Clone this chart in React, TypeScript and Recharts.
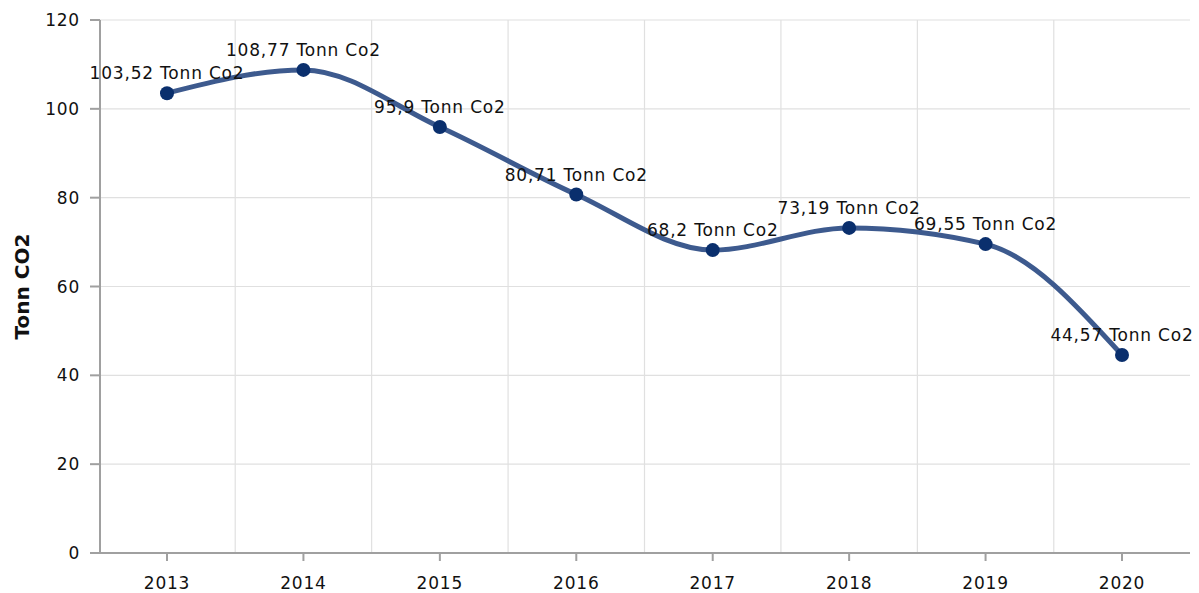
import { LineChart, Line, XAxis, YAxis, CartesianGrid, LabelList, Label } from "recharts";

// Values
const years = ["2013", "2014", "2015", "2016", "2017", "2018", "2019", "2020"];
const emissions = [103.52, 108.77, 95.9, 80.71, 68.2, 73.19, 69.55, 44.57];
const yTicks = [0, 20, 40, 60, 80, 100, 120];

const data = years.map((year, i) => ({ year, value: emissions[i] }));

const PAD_LEFT = 67;
const PAD_RIGHT = 68;
const FONT = "'DejaVu Sans', Verdana, sans-serif";
const textStyle = { fill: "#111", fontSize: 17, letterSpacing: 0.8, fontFamily: FONT };

export default function App() {
  return (
    <div style={{ position: "absolute", left: 0, top: 0, fontFamily: FONT }}>
      <LineChart
        width={1199}
        height={593}
        data={data}
        margin={{ top: 20, right: 9, bottom: 0, left: 0 }}
      >
        {/* vertical lines sit between the categories */}
        <CartesianGrid
          stroke="#e0e0e0"
          strokeWidth={1.2}
          verticalCoordinatesGenerator={({ offset }: any) => {
            const step = (offset.width - PAD_LEFT - PAD_RIGHT) / (years.length - 1);
            return years
              .slice(1)
              .map((_, i) => offset.left + PAD_LEFT + (i + 0.5) * step);
          }}
        />
        <XAxis
          dataKey="year"
          height={40}
          padding={{ left: PAD_LEFT, right: PAD_RIGHT }}
          tickSize={8}
          tickMargin={16}
          axisLine={{ stroke: "#a0a0a0", strokeWidth: 2 }}
          tickLine={{ stroke: "#a0a0a0", strokeWidth: 2 }}
          tick={textStyle}
        />
        <YAxis
          width={100}
          domain={[0, 120]}
          ticks={yTicks}
          tickSize={10}
          tickMargin={10}
          axisLine={{ stroke: "#a0a0a0", strokeWidth: 2 }}
          tickLine={{ stroke: "#a0a0a0", strokeWidth: 2 }}
          tick={textStyle}
        >
          <Label
            content={({ viewBox }: any) => {
              const x = viewBox.x + 22;
              const y = viewBox.y + viewBox.height / 2;
              return (
                <text
                  x={x}
                  y={y}
                  transform={`rotate(-90 ${x} ${y})`}
                  textAnchor="middle"
                  dominantBaseline="central"
                  fontSize={20}
                  fontWeight="bold"
                  fontFamily={FONT}
                  fill="#111"
                >
                  Tonn CO2
                </text>
              );
            }}
          />
        </YAxis>
        <Line
          type="monotone"
          dataKey="value"
          stroke="#3d5a8e"
          strokeWidth={5}
          dot={{ r: 7, fill: "#0a2f6d", stroke: "none" }}
          activeDot={false}
          isAnimationActive={false}
        >
          <LabelList
            dataKey="value"
            position="top"
            offset={14}
            formatter={(v: any) => `${String(v).replace(".", ",")} Tonn Co2`}
            style={textStyle}
          />
        </Line>
      </LineChart>
    </div>
  );
}
